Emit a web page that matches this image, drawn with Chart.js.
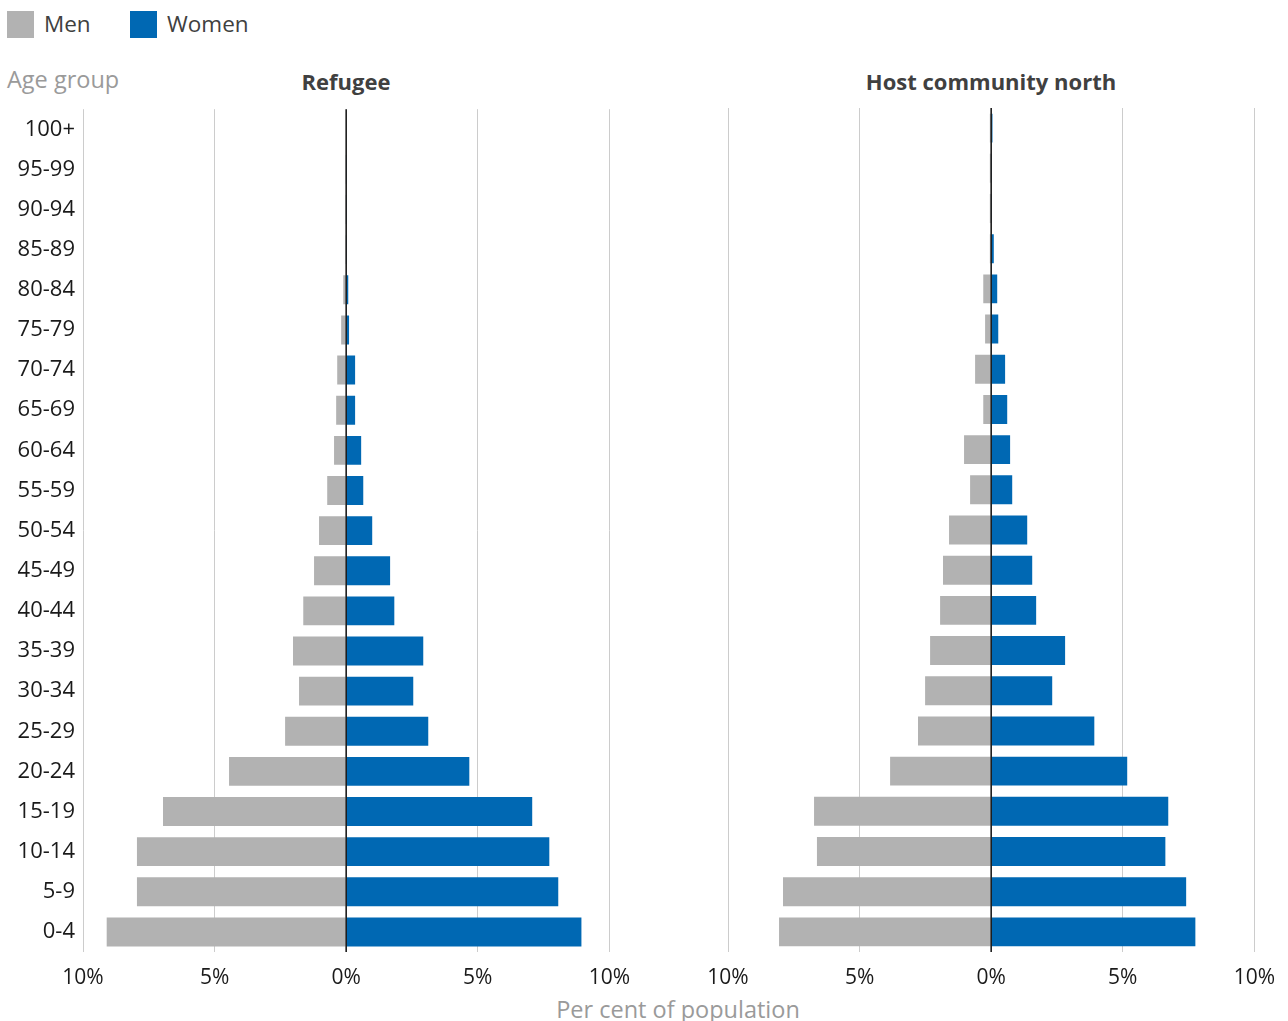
<!DOCTYPE html>
<html>
<head>
<meta charset="utf-8">
<script src="https://cdn.jsdelivr.net/npm/chart.js@4"></script>
<style>
  body { margin: 0; width: 1288px; height: 1021px; background: #fff; font-family: "Open Sans", Lato, sans-serif; position: relative; overflow: hidden; }
  .txt { position: absolute; font-size: 22px; line-height: 30px; white-space: nowrap; }
  .box { position: absolute; width: 27px; height: 27px; }
  .title { font-weight: bold; color: #404040; transform: translateX(-50%); }
  .grey { color: #9a9a9a; font-size: 23.5px; }
  .wrap { position: absolute; width: 643px; }
</style>
</head>
<body>
<div class="box" style="left:7px;top:11px;background:#b2b2b2"></div>
<div class="txt" style="left:44px;top:9px;color:#404040;font-size:22.5px">Men</div>
<div class="box" style="left:130px;top:11px;background:#0068b3"></div>
<div class="txt" style="left:167px;top:9px;color:#404040;font-size:22.5px">Women</div>

<div class="txt grey" style="left:7px;top:64px">Age group</div>
<div class="txt title" style="left:346px;top:66px">Refugee</div>
<div class="txt title" style="left:991px;top:66px">Host community north</div>
<div class="txt grey" style="left:678px;top:994px;transform:translateX(-50%)">Per cent of population</div>

<div class="wrap" style="left:0px;top:88px;height:904px"><canvas id="refugeeChart"></canvas></div>
<div class="wrap" style="left:645px;top:100px;height:892px"><canvas id="hostChart"></canvas></div>

<script>
const ageGroups = ["0-4", "5-9", "10-14", "15-19", "20-24", "25-29", "30-34", "35-39", "40-44", "45-49",
  "50-54", "55-59", "60-64", "65-69", "70-74", "75-79", "80-84", "85-89", "90-94", "95-99", "100+"];

// per cent of population, youngest first
const refugeeMen =   [9.1, 7.95, 7.95, 6.96, 4.45, 2.32, 1.79, 2.02, 1.63, 1.22, 1.03, 0.72, 0.46, 0.38, 0.34, 0.19, 0.11, 0.03, 0.03, 0.01, 0.0];
const refugeeWomen = [8.94, 8.06, 7.72, 7.07, 4.68, 3.12, 2.55, 2.93, 1.83, 1.67, 0.99, 0.65, 0.57, 0.34, 0.34, 0.11, 0.08, 0.01, 0.01, 0.01, 0.0];
const hostMen =      [8.06, 7.91, 6.62, 6.73, 3.84, 2.78, 2.51, 2.32, 1.94, 1.83, 1.6, 0.8, 1.03, 0.3, 0.61, 0.23, 0.3, 0.05, 0.05, 0.05, 0.05];
const hostWomen =    [7.76, 7.41, 6.62, 6.73, 5.17, 3.92, 2.32, 2.81, 1.71, 1.56, 1.37, 0.8, 0.72, 0.61, 0.53, 0.27, 0.23, 0.1, 0.01, 0.01, 0.05];

const xTicks = [-10, -5, 0, 5, 10];

const zeroLine = {
  id: 'zeroLine',
  afterDatasetsDraw(chart) {
    const ctx = chart.ctx;
    const x = chart.scales.x.getPixelForValue(0);
    ctx.save();
    ctx.strokeStyle = '#111';
    ctx.lineWidth = 1.5;
    ctx.beginPath();
    ctx.moveTo(x, chart.chartArea.top);
    ctx.lineTo(x, chart.chartArea.bottom);
    ctx.stroke();
    ctx.restore();
  }
};

function makePyramid(el, men, women, showLabels) {
  return new Chart(document.getElementById(el), {
    type: 'bar',
    data: {
      labels: ageGroups,
      datasets: [
        { label: 'Men', data: men.map(v => -v), backgroundColor: '#b2b2b2', barPercentage: 0.72, categoryPercentage: 1 },
        { label: 'Women', data: women, backgroundColor: '#0068b3', barPercentage: 0.72, categoryPercentage: 1 }
      ]
    },
    options: {
      indexAxis: 'y',
      responsive: true,
      maintainAspectRatio: false,
      animation: false,
      layout: { padding: { top: 8, right: 20, left: 0, bottom: 0 } },
      plugins: { legend: { display: false }, tooltip: { enabled: false } },
      scales: {
        x: {
          stacked: true,
          min: -10,
          max: 10,
          afterBuildTicks: s => { s.ticks = xTicks.map(v => ({ value: v })); },
          afterFit: s => { s.height = 40; },
          border: { display: false },
          grid: { color: '#cccccc', lineWidth: 1, drawTicks: false },
          ticks: {
            padding: 13,
            color: '#1a1a1a',
            font: { family: 'Open Sans', size: 21 },
            callback: v => Math.abs(v) + '%'
          }
        },
        y: {
          stacked: true,
          reverse: true,
          afterFit: s => { s.width = 83; },
          border: { display: false },
          grid: { display: false, drawTicks: false },
          ticks: {
            display: showLabels,
            padding: 8,
            color: '#1a1a1a',
            font: { family: 'Open Sans', size: 22 }
          }
        }
      }
    },
    plugins: [zeroLine]
  });
}

makePyramid('refugeeChart', refugeeMen, refugeeWomen, true);
makePyramid('hostChart', hostMen, hostWomen, false);
</script>
</body>
</html>
